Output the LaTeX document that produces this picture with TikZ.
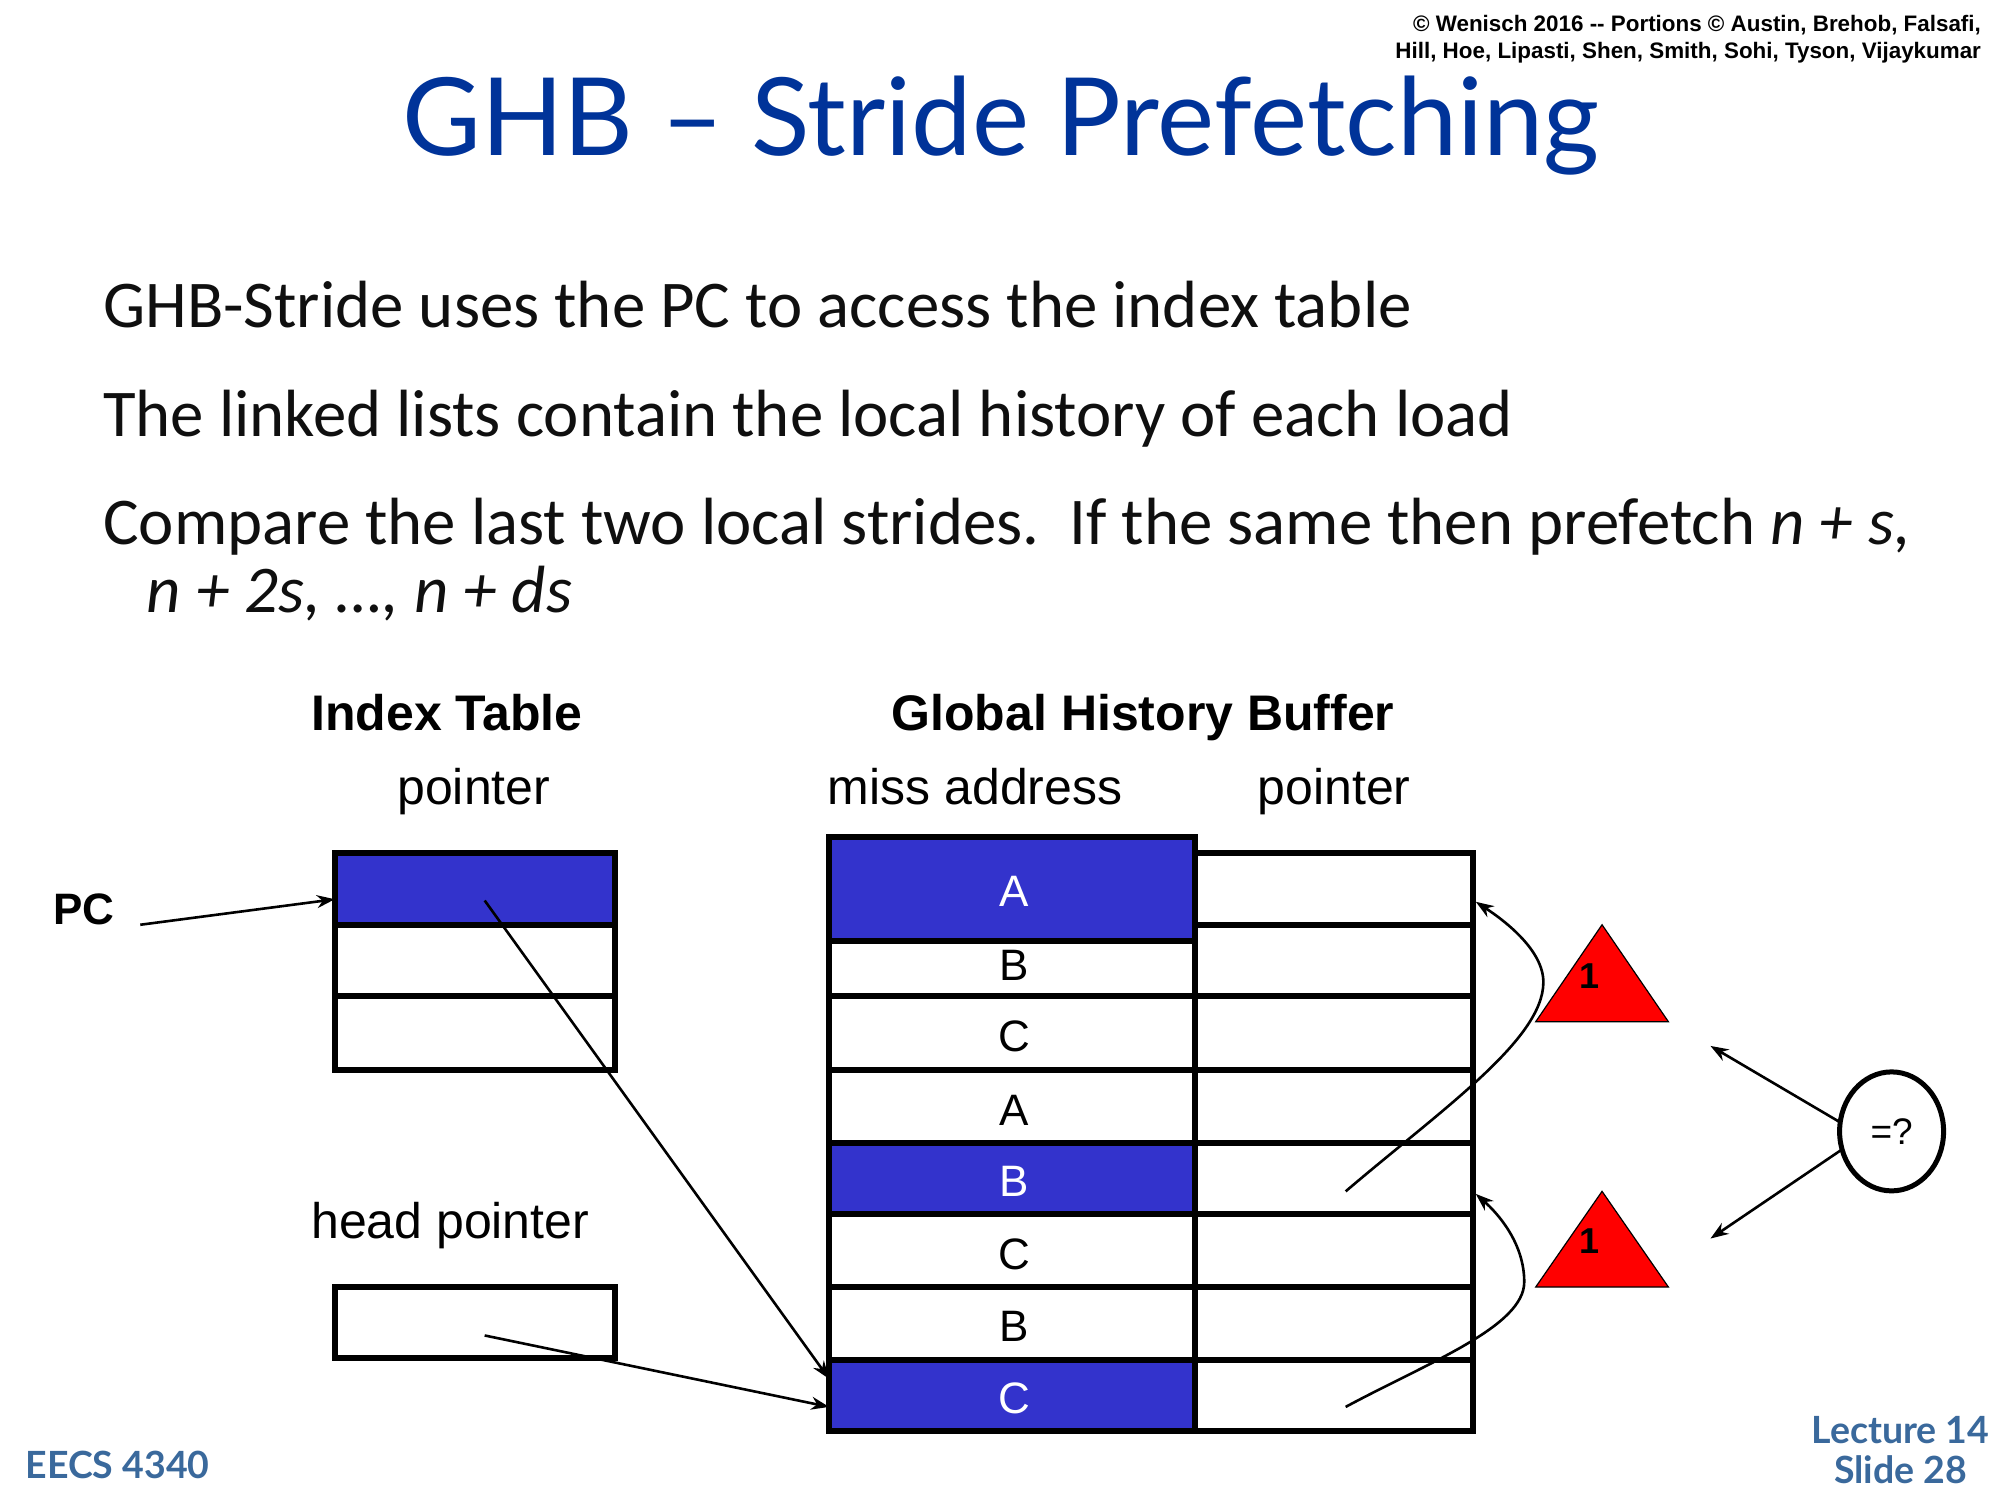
\documentclass[tikz,border=0pt]{standalone}
\usepackage{fontspec}
\setmainfont{Liberation Sans}
\newfontfamily\bodyfont{Carlito}
\newfontfamily\handfont{Lato}
\usetikzlibrary{fit,arrows.meta,shapes.geometric}
\definecolor{hlblue}{RGB}{51,51,204}
\definecolor{titleblue}{RGB}{0,51,153}
\definecolor{footblue}{RGB}{58,105,156}
\definecolor{bodyblack}{RGB}{15,15,15}
\newcommand{\fs}[1]{\fontsize{#1}{#1}\selectfont}
\tikzset{
  x=1.27551pt,y=-1.27551pt,
  cell/.style={draw=black,line width=6pt,inner sep=0pt,outer sep=0pt,fill=white,text=black},
  hl/.style={cell,fill=hlblue,text=white},
  lbl/.style={inner sep=0pt,outer sep=0pt,anchor=base west,text=black,font=\fs{50}},
  boldlbl/.style={lbl,font=\fs{50}\bfseries},
  bodytxt/.style={inner sep=0pt,outer sep=0pt,anchor=base west,text=bodyblack,font=\bodyfont\fs{66.8}},
  copyr/.style={inner sep=0pt,outer sep=0pt,anchor=base east,text=black,font=\fs{22.4}\bfseries},
  foot/.style={inner sep=0pt,outer sep=0pt,text=footblue,font=\handfont\fs{37.5}\bfseries},
  conn/.style={draw=black,line width=2.6pt,-{Stealth[length=18pt,width=13pt]}},
  tri/.style={fill=red,draw=black,line width=1.2pt,line join=miter},
  celltxt/.style={inner sep=0pt,font=\fs{44}},
}
\begin{document}
\begin{tikzpicture}
\useasboundingbox (0,0) rectangle (1568,1176);
\fill[white] (0,0) rectangle (1568,1176);
% header
\node[copyr] (c1) at (1553,25) {© Wenisch 2016 -{}- Portions © Austin, Brehob, Falsafi,};
\node[copyr] (c2) at (1553,46) {Hill, Hoe, Lipasti, Shen, Smith, Sohi, Tyson, Vijaykumar};
\node[inner sep=0pt,anchor=base,text=titleblue,font=\handfont\fs{108}] (title) at (784.5,122) {GHB – Stride Prefetching};
% body
\node[bodytxt] (b1) at (81,257) {GHB-Stride uses the PC to access the index table};
\node[bodytxt] (b2) at (81,342) {The linked lists contain the local history of each load};
\node[bodytxt] (b3) at (81,427) {Compare the last two local strides.\ \ If the same then prefetch \textit{n + s,}};
\node[bodytxt] (b4) at (115,480) {\textit{n + 2s, …, n + ds}};
% headings
\node[boldlbl] (h1) at (244,573) {Index Table};
\node[boldlbl] (h2) at (699,573) {Global History Buffer};
\node[lbl] (h3) at (311.5,631) {pointer};
\node[lbl] (h4) at (649,631) {miss address};
\node[lbl] (h5) at (986,631) {pointer};
\node[lbl] (h6) at (244,971) {head pointer};
\node[boldlbl,font=\fs{44}\bfseries] (pc) at (42,725) {PC};
% index table
\node[hl,fit={(262.5,669)(482,725)}] (it1) {};
\node[cell,fit={(262.5,725)(482,781)}] (it2) {};
\node[cell,fit={(262.5,781)(482,839)}] (it3) {};
\node[cell,fit={(262.5,1009)(482,1065)}] (hp) {};
% pointer column
\node[cell,fit={(937,669)(1155,725)}] (p1) {};
\node[cell,fit={(937,725)(1155,781)}] (p2) {};
\node[cell,fit={(937,781)(1155,839)}] (p3) {};
\node[cell,fit={(937,839)(1155,896)}] (p4) {};
\node[cell,fit={(937,896)(1155,952)}] (p5) {};
\node[cell,fit={(937,952)(1155,1009)}] (p6) {};
\node[cell,fit={(937,1009)(1155,1066)}] (p7) {};
\node[cell,fit={(937,1066)(1155,1122)}] (p8) {};
% miss address column
\node[cell,fit={(650,738)(937,781)}] (m2) {};
\node[cell,fit={(650,781)(937,839)}] (m3) {};
\node[cell,fit={(650,839)(937,896)}] (m4) {};
\node[hl,fit={(650,896)(937,952)}] (m5) {};
\node[cell,fit={(650,952)(937,1009)}] (m6) {};
\node[cell,fit={(650,1009)(937,1066)}] (m7) {};
\node[hl,fit={(650,1066)(937,1122)}] (m8) {};
\node[hl,fit={(650,656)(937,738)}] (m1) {};
\node[celltxt,text=white] (ma) at (795,698.5) {A};
\node[celltxt,text=black] (mb) at (795,756.5) {B};
\node[celltxt,text=black] (mc) at (795,812.5) {C};
\node[celltxt,text=black] (md) at (795,870.5) {A};
\node[celltxt,text=white] (me) at (795,926.5) {B};
\node[celltxt,text=black] (mf) at (795,983.5) {C};
\node[celltxt,text=black] (mg) at (795,1039.5) {B};
\node[celltxt,text=white] (mh) at (795,1096.5) {C};
% triangles
\filldraw[tri] (1256,725) -- (1308,801) -- (1204,801) -- cycle;
\filldraw[tri] (1256,934) -- (1308,1009) -- (1204,1009) -- cycle;
\node[inner sep=0pt,font=\fs{36}\bfseries] (t1) at (1246,765) {1};
\node[inner sep=0pt,font=\fs{36}\bfseries] (t2) at (1246,973) {1};
% comparator
\node[draw=black,line width=5pt,ellipse,minimum width=104pt,minimum height=119pt,inner sep=0pt,outer sep=0pt,font=\fs{37}] (cmp) at (1483,887) {=?};
% free ends
\coordinate (pcs) at (110,725);
\coordinate (itp) at (380,706);
\coordinate (hps) at (380,1047);
\coordinate (cu1) at (1055,934);
\coordinate (cp1) at (1210,770);
\coordinate (ce1) at (1157,707);
\coordinate (cu2) at (1055,1103);
\coordinate (cp2) at (1195,1005);
\coordinate (ce2) at (1157,936);
\coordinate (a1) at (1341,820);
\coordinate (a2) at (1341,971);
\coordinate (b8a) at (650,1081);
\coordinate (b8b) at (650,1103);
% connectors
\draw[conn] (pcs) -- (it1.west |- 0,705);
\draw[conn] (itp) -- (b8a);
\draw[conn] (hps) -- (b8b);
\draw[conn] (cu1) .. controls (1130,870) and (1210,815) .. (cp1) .. controls (1210,745) and (1180,722) .. (ce1);
\draw[conn] (cu2) .. controls (1120,1068) and (1195,1040) .. (cp2) .. controls (1195,975) and (1175,952) .. (ce2);
\draw[conn] (cmp.170) -- (a1);
\draw[conn] (cmp.200) -- (a2);
% footer
\node[foot,anchor=base west] (f1) at (20,1159) {EECS 4340};
\node[foot,anchor=base] (f2) at (1490,1132) {Lecture 14};
\node[foot,anchor=base] (f3) at (1490,1163) {Slide 28};
\end{tikzpicture}
\end{document}
